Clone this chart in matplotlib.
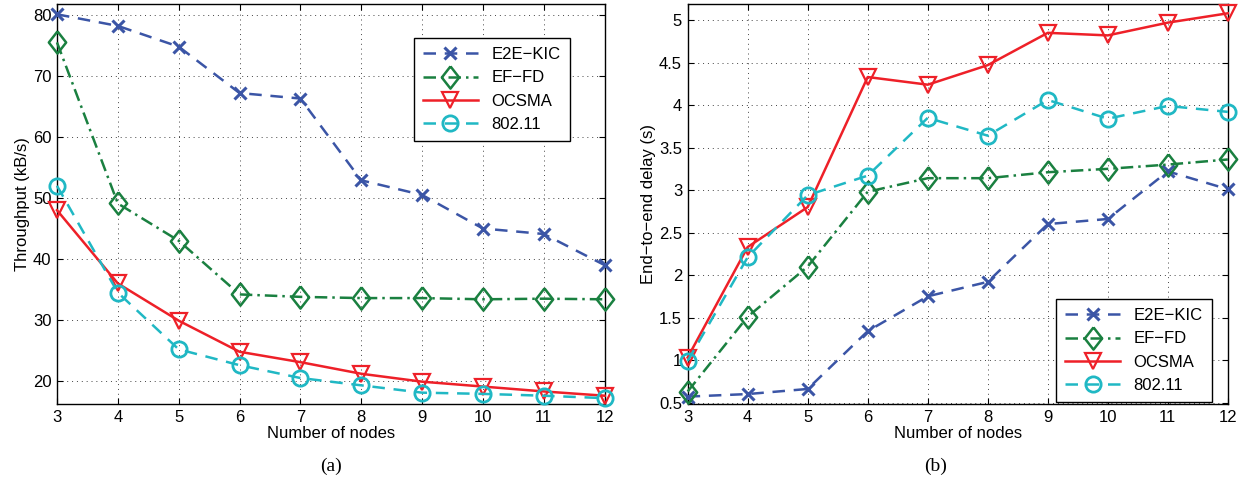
import matplotlib
matplotlib.use("Agg")
import matplotlib.pyplot as plt

# ======= data =======
nodes = [3, 4, 5, 6, 7, 8, 9, 10, 11, 12]

thr_e2e = [80.1, 78.2, 74.8, 67.2, 66.3, 52.9, 50.5, 45.0, 44.1, 39.0]
thr_effd = [75.5, 49.1, 43.0, 34.2, 33.8, 33.6, 33.6, 33.4, 33.5, 33.4]
thr_ocsma = [48.0, 36.0, 29.9, 24.8, 23.1, 21.2, 19.9, 19.1, 18.3, 17.6]
thr_80211 = [52.0, 34.5, 25.2, 22.6, 20.5, 19.3, 18.1, 17.9, 17.6, 17.2]

del_e2e = [0.57, 0.60, 0.66, 1.34, 1.75, 1.92, 2.60, 2.66, 3.22, 3.01]
del_effd = [0.63, 1.51, 2.10, 2.98, 3.14, 3.14, 3.21, 3.25, 3.30, 3.36]
del_ocsma = [1.03, 2.33, 2.80, 4.33, 4.24, 4.47, 4.85, 4.82, 4.97, 5.08]
del_80211 = [0.99, 2.21, 2.94, 3.17, 3.85, 3.64, 4.06, 3.84, 3.99, 3.92]

labels = ["E2E\u2212KIC", "EF\u2212FD", "OCSMA", "802.11"]

font_size = 12
plt.rcParams['font.family'] = ['Liberation Sans', 'DejaVu Sans']

c_blue = '#3b55a6'
c_green = '#1a8040'
c_red = '#ee2028'
c_cyan = '#20b8c4'

# MATLAB-like diamond, a bit wider than matplotlib's thin diamond
diamond = [(0, 1), (0.78, 0), (0, -1), (-0.78, 0), (0, 1)]

styles = [
    dict(color=c_blue, linestyle=(0, (5, 3.5)), marker='x', markersize=8, mew=2.2),
    dict(color=c_green, linestyle=(0, (5, 2, 1, 2)), marker=diamond, markersize=16, mew=1.8, mfc='none'),
    dict(color=c_red, linestyle='-', marker='v', markersize=12, mew=1.6, mfc='none'),
    dict(color=c_cyan, linestyle=(0, (5, 3.5)), marker='o', markersize=11, mew=2.0, mfc='none'),
]


def draw_panel(ax, series):
    for ys, lab, st in zip(series, labels, styles):
        ax.plot(nodes, ys, label=lab, linewidth=1.8, clip_on=False, zorder=3, **st)
    ax.set_xlim(3, 12)
    ax.set_xticks(nodes)
    ax.grid(True, linestyle=(0, (1, 4)), color='#444444', linewidth=0.7)
    ax.tick_params(axis='both', direction='in', top=True, right=True,
                   labelsize=font_size, length=4, pad=4)
    ax.set_xlabel("Number of nodes", fontsize=font_size, labelpad=1)
    for s in ax.spines.values():
        s.set_linewidth(1.0)


def add_legend(ax, loc, anchor):
    leg = ax.legend(loc=loc, bbox_to_anchor=anchor, borderaxespad=0,
                    fontsize=font_size, handlelength=3.3, fancybox=False,
                    edgecolor='black', framealpha=1, borderpad=0.55, labelspacing=0.5)
    leg.get_frame().set_linewidth(1.0)


fig = plt.figure(figsize=(12.39, 4.93), dpi=100)

# (a) throughput
ax1 = fig.add_axes([0.046, 0.180, 0.442, 0.812])
draw_panel(ax1, [thr_e2e, thr_effd, thr_ocsma, thr_80211])
ax1.set_ylim(16.2, 81.8)
ax1.set_yticks([20, 30, 40, 50, 60, 70, 80])
ax1.set_ylabel("Throughput (kB/s)", fontsize=font_size, labelpad=2)
add_legend(ax1, 'upper right', (0.936, 0.915))

# (b) delay
ax2 = fig.add_axes([0.555, 0.180, 0.436, 0.812])
draw_panel(ax2, [del_e2e, del_effd, del_ocsma, del_80211])
ax2.set_ylim(0.48, 5.19)
ax2.set_yticks([0.5, 1, 1.5, 2, 2.5, 3, 3.5, 4, 4.5, 5])
ax2.set_yticklabels(["0.5", "1", "1.5", "2", "2.5", "3", "3.5", "4", "4.5", "5"])
ax2.set_ylabel("End\u2212to\u2212end delay (s)", fontsize=font_size, labelpad=2)
add_legend(ax2, 'lower right', (0.970, 0.005))

fig.text(0.267, 0.055, "(a)", ha='center', va='center', fontsize=14,
         family=['Liberation Serif', 'DejaVu Serif'])
fig.text(0.755, 0.055, "(b)", ha='center', va='center', fontsize=14,
         family=['Liberation Serif', 'DejaVu Serif'])

fig.savefig("out.png", dpi=100)
